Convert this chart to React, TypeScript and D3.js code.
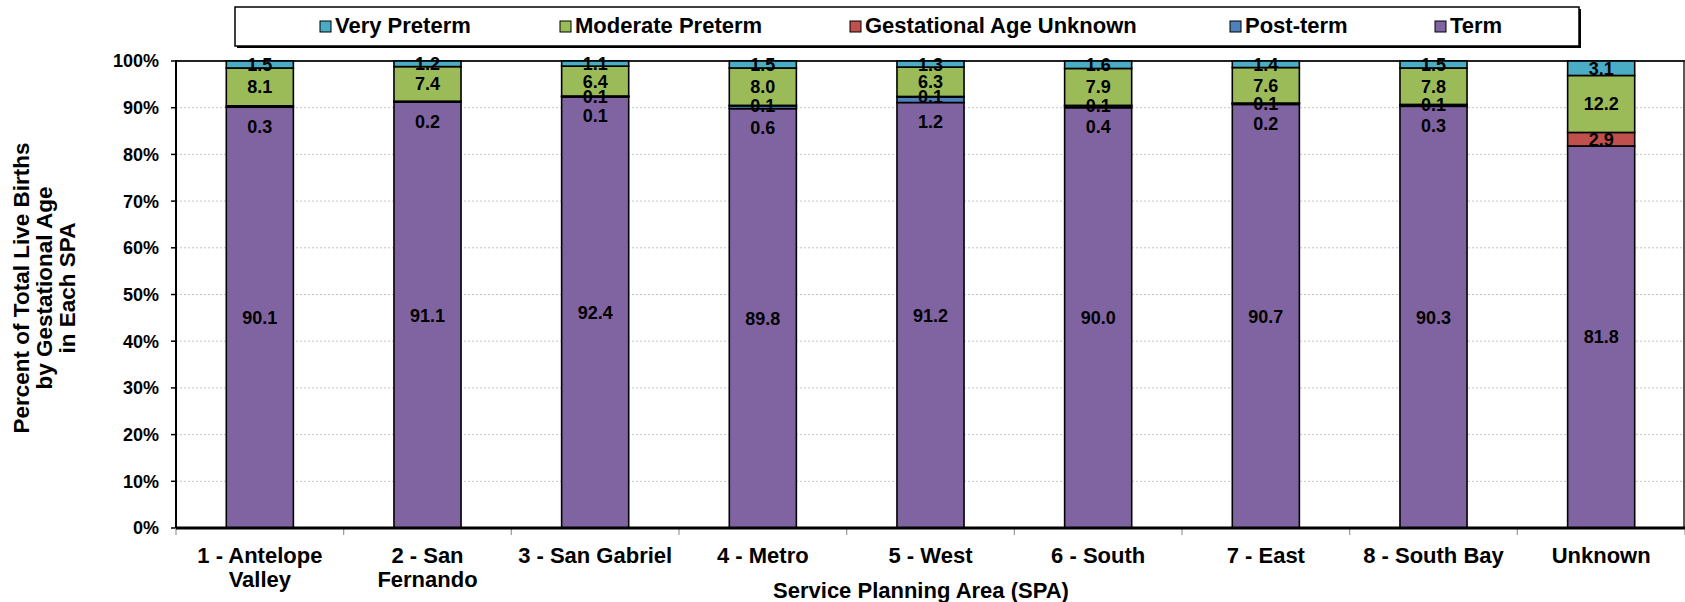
import React from "react";
import * as d3 from "d3";

const categories: string[][] = [
  ["1 - Antelope", "Valley"],
  ["2 - San", "Fernando"],
  ["3 - San Gabriel"],
  ["4 - Metro"],
  ["5 - West"],
  ["6 - South"],
  ["7 - East"],
  ["8 - South Bay"],
  ["Unknown"],
];

const seriesKeys = ["Term", "Post-term", "Gestational Age Unknown", "Moderate Preterm", "Very Preterm"];
const legendOrder = ["Very Preterm", "Moderate Preterm", "Gestational Age Unknown", "Post-term", "Term"];

const term = [90.1, 91.1, 92.4, 89.8, 91.2, 90.0, 90.7, 90.3, 81.8];
const postTerm = [0.3, 0.2, 0.1, 0.6, 1.2, 0.4, 0.2, 0.3, 0];
const gaUnknown = [0, 0, 0.1, 0.1, 0.1, 0.1, 0.1, 0.1, 2.9];
const moderatePreterm = [8.1, 7.4, 6.4, 8.0, 6.3, 7.9, 7.6, 7.8, 12.2];
const veryPreterm = [1.5, 1.2, 1.1, 1.5, 1.3, 1.6, 1.4, 1.5, 3.1];

const yTicks = [0, 0.1, 0.2, 0.3, 0.4, 0.5, 0.6, 0.7, 0.8, 0.9, 1.0];

const colors: Record<string, string> = {
  "Very Preterm": "#4BACC6",
  "Moderate Preterm": "#9BBB59",
  "Gestational Age Unknown": "#C0504D",
  "Post-term": "#4F81BD",
  "Term": "#8064A2",
};

const legendX = [320, 560, 850, 1230, 1435];

const FONT = "'Liberation Sans', Arial, Helvetica, sans-serif";

export default function App() {
  const W = 1685;
  const H = 602;
  const left = 176;
  const right = 1685;
  const top = 61;
  const bottom = 528;

  const rows = categories.map((c, i) => ({
    id: String(i),
    "Term": term[i],
    "Post-term": postTerm[i],
    "Gestational Age Unknown": gaUnknown[i],
    "Moderate Preterm": moderatePreterm[i],
    "Very Preterm": veryPreterm[i],
  }));

  const x = d3
    .scaleBand<string>()
    .domain(rows.map((r) => r.id))
    .range([left, right])
    .paddingInner(0.6)
    .paddingOuter(0.3);
  const step = x.step();

  const y = d3.scaleLinear().domain([0, 1]).range([bottom, top]);

  const stacked = d3
    .stack<any>()
    .keys(seriesKeys)
    .offset(d3.stackOffsetExpand)(rows);

  const termTop = stacked[0].map((d) => y(d[1]));

  return (
    <svg
      width={W}
      height={H}
      style={{ position: "absolute", left: 0, top: 0, background: "#fff" }}
      fontFamily={FONT}
      fontWeight="bold"
    >
      <rect x={0} y={0} width={W} height={H} fill="#fff" />
      {/* gridlines */}
      {yTicks.slice(1, -1).map((t) => (
        <line
          key={"g" + t}
          x1={left}
          x2={right}
          y1={y(t)}
          y2={y(t)}
          stroke="#c4c4c4"
          strokeWidth={1}
          strokeDasharray="2 2"
        />
      ))}
      {/* top border */}
      <line x1={left} x2={right} y1={y(1)} y2={y(1)} stroke="#222" strokeWidth={2} />
      <line x1={right - 1} x2={right - 1} y1={top} y2={bottom} stroke="#222" strokeWidth={1.5} />

      {/* bars */}
      {stacked.map((s) => (
        <g key={s.key} fill={colors[s.key]}>
          {s.map((d, j) => (
            <rect
              key={j}
              x={x(String(j))!}
              width={x.bandwidth()}
              y={y(d[1])}
              height={Math.max(0, y(d[0]) - y(d[1]))}
              stroke="#000"
              strokeWidth={1.6}
            />
          ))}
        </g>
      ))}

      {/* y axis */}
      <line x1={left} x2={left} y1={top - 1} y2={bottom} stroke="#000" strokeWidth={2} />
      {yTicks.map((t) => (
        <g key={"t" + t}>
          <line x1={left - 5} x2={left} y1={y(t)} y2={y(t)} stroke="#000" strokeWidth={1.5} />
          <text x={159} y={y(t)} dy="0.36em" textAnchor="end" fontSize={18} fill="#000">
            {d3.format(".0%")(t)}
          </text>
        </g>
      ))}

      {/* x axis */}
      {d3.range(0, categories.length + 1).map((k) => (
        <line
          key={"xt" + k}
          x1={left + k * step}
          x2={left + k * step}
          y1={bottom}
          y2={bottom + 7}
          stroke="#999"
          strokeWidth={1.2}
        />
      ))}
      <line x1={left} x2={right} y1={bottom} y2={bottom} stroke="#000" strokeWidth={3} />

      {/* data labels */}
      {stacked.map((s, si) =>
        s.map((d, j) => {
          const raw = (rows[j] as any)[s.key] as number;
          if (!raw || raw <= 0) return null;
          const cx = x(String(j))! + x.bandwidth() / 2;
          let cy: number;
          if (s.key === "Post-term") cy = termTop[j] + 19;
          else cy = (y(d[0]) + y(d[1])) / 2;
          return (
            <text
              key={"l" + si + "-" + j}
              x={cx}
              y={cy}
              dy="0.36em"
              textAnchor="middle"
              fontSize={18}
              fill="#000"
            >
              {raw.toFixed(1)}
            </text>
          );
        })
      )}

      {/* category labels */}
      {categories.map((lines, j) => (
        <text
          key={"c" + j}
          x={x(String(j))! + x.bandwidth() / 2}
          y={563}
          textAnchor="middle"
          fontSize={22}
          fill="#000"
        >
          {lines.map((ln, k) => (
            <tspan key={k} x={x(String(j))! + x.bandwidth() / 2} dy={k === 0 ? 0 : 24}>
              {ln}
            </tspan>
          ))}
        </text>
      ))}

      {/* axis titles */}
      <text x={921} y={598} textAnchor="middle" fontSize={22} fill="#000">
        Service Planning Area (SPA)
      </text>
      <g transform="translate(0,288) rotate(-90)">
        {["Percent of Total Live Births", "by Gestational Age", "in Each SPA"].map((t, i) => (
          <text key={i} x={0} y={29 + i * 23} textAnchor="middle" fontSize={22.5} fill="#000">
            {t}
          </text>
        ))}
      </g>

      {/* legend */}
      <rect x={237} y={9} width={1344} height={39} fill="#000" />
      <rect x={235} y={7} width={1344} height={39} fill="#fff" stroke="#000" strokeWidth={1.5} />
      {legendOrder.map((k, i) => (
        <g key={k}>
          <rect x={legendX[i]} y={21} width={11} height={11} fill={colors[k]} stroke="#000" strokeWidth={1} />
          <text x={legendX[i] + 15} y={33} fontSize={22} fill="#000">
            {k}
          </text>
        </g>
      ))}
    </svg>
  );
}
